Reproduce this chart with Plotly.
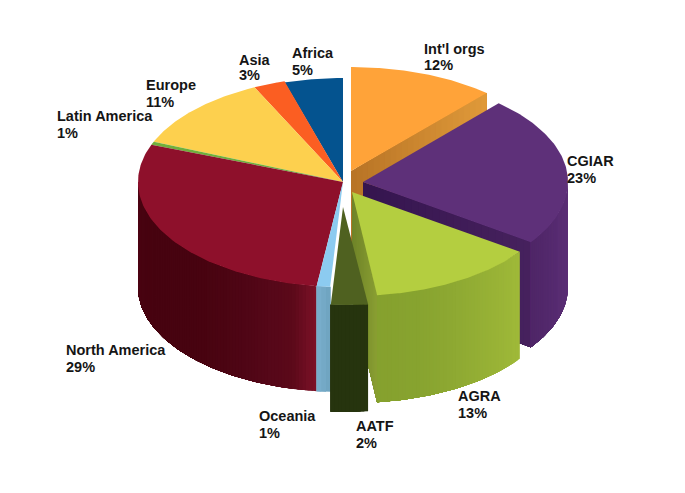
import numpy as np
import plotly.graph_objects as go

# ---- data ----
categories = ["Int'l orgs", "CGIAR", "AGRA", "AATF", "Oceania", "North America",
              "Latin America", "Europe", "Asia", "Africa"]
values = [11.5, 23.2, 13.3, 2.9, 1.1, 28.7, 0.5, 11.6, 2.5, 4.6]
labels = ["12%", "23%", "13%", "2%", "1%", "29%", "1%", "11%", "3%", "5%"]

# ---- styles ----
top_colors = ["#FFA339", "#5E3079", "#B4CE40", "#4F6120", "#8CCBF0", "#8E102B",
              "#6FAF3C", "#FDD04E", "#FB5E22", "#04538F"]
wall_colors = [
    ["#D08A30", "#D08A30"],
    ["#5C2F77", "#582C72", "#4F2667"],
    ["#A0BA39", "#98B236", "#8FAA33", "#88A430", "#86A12E"],
    ["#26340E", "#26340E"],
    ["#6FA3BF", "#7AB0CE"],
    ["#7E1229", "#5C0A1A", "#560819", "#500616", "#4C0513", "#490411", "#470310", "#470310",
     "#470310", "#470310", "#480411", "#4B0513", "#520817"],
    ["#5A8A30", "#5A8A30"],
    ["#C9A23A", "#C9A23A"],
    ["#C24A1A", "#C24A1A"],
    ["#033F6C", "#033F6C"],
]
cut_colors = {0: ("#B87426", "#E09A3A"), 1: ("#35154F", "#47225E"), 2: ("#6F8429", "#8A9F33")}
centers_x = [351, 363, 352, 343, 343, 343, 343, 343, 343, 343]
centers_y = [171, 182, 192, 207, 182, 182, 182, 182, 182, 182]
radii_y = [104, 105, 104, 98, 105, 105, 105, 105, 105, 104]
depths = [105, 105, 107, 107, 105, 105, 105, 105, 105, 105]
RX = 205
draw_order = [0, 1, 9, 8, 7, 6, 5, 4, 2, 3]

label_x = [424, 567, 458, 356, 259, 66, 57, 146, 239, 292]
name_y = [49, 161, 396, 426, 416, 350, 116, 85, 60, 53]
pct_y = [65, 178, 413, 443, 433, 367, 133, 102, 75, 70]

W, H = 685, 493
PAD = 8  # page margin around the plot
fig = go.Figure()


def hex2rgb(c):
    return np.array([int(c[i:i + 2], 16) for i in (1, 3, 5)], float)


def mix(stops, t):
    pos = t * (len(stops) - 1)
    i = min(int(pos), len(stops) - 2)
    f = pos - i
    c = hex2rgb(stops[i]) * (1 - f) + hex2rgb(stops[i + 1]) * f
    return "rgb(%d,%d,%d)" % tuple(c)


def poly(xs, ys, color):
    fig.add_trace(go.Scatter(x=list(xs), y=list(ys), mode="lines", fill="toself",
                             fillcolor=color, line=dict(width=0),
                             hoverinfo="skip", showlegend=False))


edges = np.concatenate([[0], np.cumsum(values)]) / np.sum(values) * 360.0

for k in draw_order:
    a0, a1 = np.radians(edges[k]), np.radians(edges[k + 1])
    cx, cy, ry, d = centers_x[k], centers_y[k], radii_y[k], depths[k]
    px = lambda t: cx + RX * np.sin(t)
    py = lambda t: cy - ry * np.cos(t)

    # cut wall seen from the front (painted outward, each band covering the rest)
    if k in cut_colors:
        c0, c1 = cut_colors[k]
        n = 24
        ex, ey = px(a1), py(a1)
        for j in range(n):
            r0 = j / n
            x0, y0 = cx + (ex - cx) * r0, cy + (ey - cy) * r0
            poly([x0, ex, ex, x0, x0], [y0, ey, ey + d, y0 + d, y0], mix([c0, c1], (j + 0.5) / n))

    # outer wall, front half only (each band runs to the far end and is overpainted)
    lo, hi = max(a0, np.pi / 2), min(a1, 3 * np.pi / 2)
    if hi > lo:
        n = max(2, int(np.degrees(hi - lo) / 1.0))
        grid = np.linspace(lo, hi, n + 1)
        for j in range(n):
            arc = np.linspace(grid[j], hi, max(3, n - j + 2))
            xs = np.concatenate([px(arc), px(arc[::-1])])
            ys = np.concatenate([py(arc), py(arc[::-1]) + d])
            t = (j + 0.5) / n
            poly(np.append(xs, xs[0]), np.append(ys, ys[0]), mix(wall_colors[k], t))

    # top face
    arc = np.linspace(a0, a1, 90)
    poly(np.concatenate([[cx], px(arc), [cx]]), np.concatenate([[cy], py(arc), [cy]]), top_colors[k])

font = dict(family="Liberation Sans", size=14.5, color="#151515")
for name, pct, lx, ny, py_ in zip(categories, labels, label_x, name_y, pct_y):
    fig.add_annotation(x=lx, y=ny, text=f"<b>{name}</b>", showarrow=False,
                       xanchor="left", yanchor="middle", xshift=-2, font=font)
    fig.add_annotation(x=lx, y=py_, text=f"<b>{pct}</b>", showarrow=False,
                       xanchor="left", yanchor="middle", xshift=-2, font=font)

fig.update_layout(width=W - 2 * PAD, height=H - 2 * PAD, margin=dict(l=0, r=0, t=0, b=0),
                  paper_bgcolor="white", plot_bgcolor="white",
                  xaxis=dict(range=[PAD, W - PAD], visible=False, fixedrange=True),
                  yaxis=dict(range=[H - PAD, PAD], visible=False, fixedrange=True))
fig.write_html("out.html", config={"displayModeBar": False})
